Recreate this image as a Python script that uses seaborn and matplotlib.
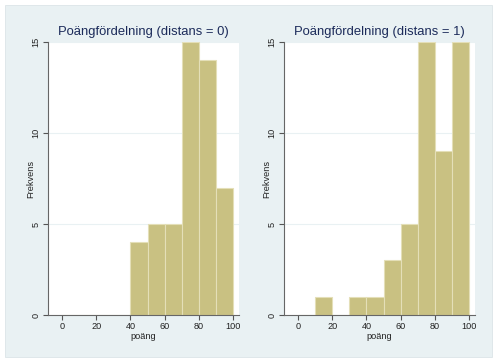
import matplotlib
matplotlib.use("Agg")
import matplotlib.pyplot as plt
from matplotlib.patches import Rectangle
import numpy as np
import seaborn as sns

# histogram counts per 10-point bin (0-10, 10-20, ..., 90-100)
bin_edges = [0, 10, 20, 30, 40, 50, 60, 70, 80, 90, 100]
counts_d0 = [0, 0, 0, 0, 4, 5, 5, 15, 14, 7]
counts_d1 = [0, 1, 0, 1, 1, 3, 5, 15, 9, 15]
titles = ["Poängfördelning (distans = 0)", "Poängfördelning (distans = 1)"]
x_ticks = [0, 20, 40, 60, 80, 100]
y_ticks = [0, 5, 10, 15]

sns.set_style("white")
plt.rcParams['font.family'] = ['Liberation Sans', 'DejaVu Sans']
plt.rcParams.update({
    "xtick.bottom": True, "ytick.left": True,
    "xtick.major.size": 3.5, "ytick.major.size": 3.5,
    "xtick.major.width": 0.8, "ytick.major.width": 0.8,
    "xtick.color": "#555555", "ytick.color": "#555555",
    "xtick.direction": "out", "ytick.direction": "out",
})

W, H = 496, 363
fig = plt.figure(figsize=(W / 100, H / 100), dpi=100, facecolor="white")

bg = "#E9F1F3"
# outer graph region
fig.patches.append(Rectangle((5 / W, 1 - 357 / H), 487 / W, 352 / H,
                             transform=fig.transFigure, facecolor=bg,
                             edgecolor="#DCE5E8", linewidth=0.6, zorder=-5))

mids = [(a + b) / 2 for a, b in zip(bin_edges[:-1], bin_edges[1:])]
panels = [(48, counts_d0), (284, counts_d1)]

for (left, counts), title in zip(panels, titles):
    ax = fig.add_axes([left / W, 1 - 315 / H, 191 / W, 273 / H])
    ax.set_facecolor("white")
    for y in y_ticks[1:]:
        ax.axhline(y, color=bg, lw=0.8, zorder=0)
    sns.histplot(x=mids, weights=counts, bins=bin_edges, ax=ax,
                 color="#C9C182", alpha=1, edgecolor="#E4DFB8", linewidth=0.8)
    ax.set_xlim(-8.3, 103.6)
    ax.set_ylim(0, 15)
    ax.set_xticks(x_ticks)
    ax.set_yticks(y_ticks)
    ax.set_xticklabels([str(t) for t in x_ticks], fontsize=6.6, color="#222222")
    ax.set_yticklabels([str(t) for t in y_ticks], fontsize=6.6, color="#222222",
                       rotation=90, va="center")
    ax.tick_params(axis="both", pad=2, bottom=True, left=True)
    ax.tick_params(axis="x", pad=1.5)
    for s in ["top", "right"]:
        ax.spines[s].set_visible(False)
    for s in ["left", "bottom"]:
        ax.spines[s].set_color("#666666")
        ax.spines[s].set_linewidth(0.8)
    ax.set_xlabel("poäng", fontsize=6.6, color="#222222", labelpad=0.5)
    ax.set_ylabel("Frekvens", fontsize=6.6, color="#222222", labelpad=-2.5)
    ax.set_title(title, fontsize=9.4, color="#1C2B5A", pad=5)

fig.savefig("out.png", dpi=100, facecolor="white")
